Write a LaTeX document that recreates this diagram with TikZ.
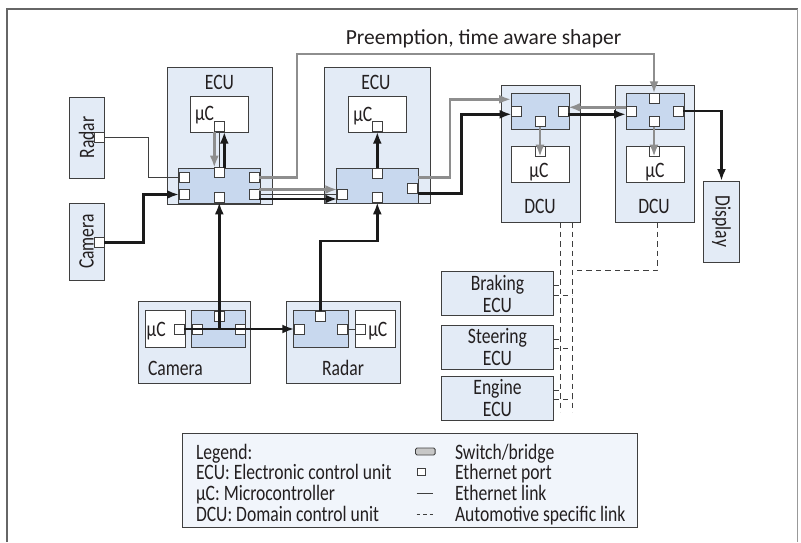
\documentclass[tikz,border=0pt]{standalone}
\usepackage{fontspec}
\setmainfont[FakeStretch=0.8]{Carlito}
\newfontfamily\titlefont{Carlito}
\usetikzlibrary{arrows.meta}
\definecolor{boxfill}{HTML}{E3EBF6}
\definecolor{swfill}{HTML}{C8D8EE}
\definecolor{edge}{HTML}{3F3F3F}
\definecolor{flowgray}{HTML}{8E8E8E}
\definecolor{flowblack}{HTML}{1A1A1A}
\definecolor{legfill}{HTML}{F1F5FB}
\definecolor{txt}{HTML}{231F20}
\begin{document}
\begin{tikzpicture}[x=1pt,y=-1pt,
  every node/.style={inner sep=0pt, outer sep=0pt, font=\fontsize{22}{21.6}\selectfont, text=txt},
  unit/.style={draw=edge, fill=boxfill, line width=0.9pt},
  swbox/.style={draw=edge, fill=swfill, line width=0.9pt},
  mcbox/.style={draw=edge, fill=white, line width=0.9pt},
  port/.style={draw=edge, fill=white, line width=0.9pt, minimum width=10pt, minimum height=10pt},
  link/.style={draw=edge, line width=0.9pt},
  bflow/.style={draw=flowblack, line width=2.6pt, -{Latex[length=12pt,width=9pt]}},
  gflow/.style={draw=flowgray, line width=2.4pt, -{Latex[length=12pt,width=9pt]}},
  autolink/.style={draw=edge, line width=0.9pt, dash pattern=on 5.5pt off 4pt},
]
\useasboundingbox (0,0) rectangle (801,542);
% frame
\draw[draw=black!60, line width=1.2pt] (7,542) -- (7,9) -- (797.5,9);
\draw[draw=black!40, line width=1.8pt] (797.5,9) -- (797.5,542);

% title
\node[font=\titlefont\fontsize{21.5}{24}\selectfont, anchor=base] (title) at (483.5,44) {Preemption, time aware shaper};

% ECU 1
\node[unit, minimum width=105pt, minimum height=137pt] (ecuA) at (219.5,135.5) {};
\node[anchor=base] (tA) at (219.5,89) {ECU};
\node[mcbox, minimum width=58pt, minimum height=35.5pt] (mcA) at (219,114.5) {};
\node[anchor=base west] (tmA) at (195,120) {μC};
\node[swbox, minimum width=82pt, minimum height=35.5pt] (swA) at (219,185.7) {};
\node[port] (pA0) at (219.3,126.7) {};
\node[port] (pAt) at (219.3,172.7) {};
\node[port] (pAb) at (219.3,197.3) {};
\node[port] (pAl1) at (184,177.3) {};
\node[port] (pAl2) at (184,194.5) {};
\node[port] (pAr1) at (254,177.3) {};
\node[port] (pAr2) at (254,194.5) {};

% ECU 2
\node[unit, minimum width=106pt, minimum height=136.5pt] (ecuB) at (377,135.3) {};
\node[anchor=base] (tB) at (376,89) {ECU};
\node[mcbox, minimum width=58pt, minimum height=35.5pt] (mcB) at (377,114.5) {};
\node[anchor=base west] (tmB) at (353.3,121) {μC};
\node[swbox, minimum width=82pt, minimum height=35.5pt] (swB) at (377,185.7) {};
\node[port] (pB0) at (377.3,126.7) {};
\node[port] (pBt) at (377.3,173.3) {};
\node[port] (pBb) at (377.3,197.3) {};
\node[port] (pBl) at (342.3,194.5) {};
\node[port] (pBr) at (412.5,188.3) {};

% left sensors
\node[unit, rotate=90, minimum width=81pt, minimum height=35pt] (radL) at (86.5,137.5) {Radar};
\node[port] (radLp) at (99,137.3) {};
\node[unit, rotate=90, minimum width=77pt, minimum height=35pt] (camL) at (86.5,241.5) {Camera};
\node[port] (camLp) at (99,242.7) {};

% DCU 1
\node[unit, minimum width=79pt, minimum height=137pt] (dcuA) at (540.5,153.5) {};
\node[swbox, minimum width=58pt, minimum height=35.7pt] (swC) at (540,111.2) {};
\node[mcbox, minimum width=58pt, minimum height=35.6pt] (mcC) at (540,164.5) {};
\node[anchor=base] (tmC) at (539,177.7) {μC};
\node[anchor=base] (tdA) at (540,213.3) {DCU};
\node[port] (pCl) at (516.7,111) {};
\node[port] (pCr) at (563.3,111) {};
\node[port] (pCb) at (540,121.7) {};
\node[port] (pC0) at (540,151.7) {};

% DCU 2
\node[unit, minimum width=79pt, minimum height=137pt] (dcuB) at (654.5,153.5) {};
\node[swbox, minimum width=58pt, minimum height=35.7pt] (swD) at (655,111.2) {};
\node[mcbox, minimum width=58pt, minimum height=35.6pt] (mcD) at (655,164.5) {};
\node[anchor=base] (tmD) at (655,177.7) {μC};
\node[anchor=base] (tdB) at (654,213.3) {DCU};
\node[port] (pDt) at (654,98.3) {};
\node[port] (pDl) at (631,111) {};
\node[port] (pDr) at (678,111) {};
\node[port] (pDb) at (654,121.7) {};
\node[port] (pD0) at (654,151.7) {};

% Display
\node[unit, rotate=-90, minimum width=81pt, minimum height=36pt] (disp) at (721.5,221.5) {Display};

% bottom camera
\node[unit, minimum width=112.5pt, minimum height=81.7pt] (camB) at (194.5,342.5) {};
\node[anchor=base west] (tcam) at (148,375) {Camera};
\node[mcbox, minimum width=39.3pt, minimum height=36.6pt] (mcE) at (165.4,329) {};
\node[anchor=base west] (tmE) at (146.7,336) {μC};
\node[swbox, minimum width=54.7pt, minimum height=36.6pt] (swE) at (218.3,329) {};
\node[port] (pE0) at (179,329) {};
\node[port] (pEl) at (197,329) {};
\node[port] (pEt) at (219.3,316) {};
\node[port] (pEr) at (240.3,329) {};

% bottom radar
\node[unit, minimum width=114pt, minimum height=81.7pt] (radB) at (343,342.5) {};
\node[anchor=base] (trad) at (343,375) {Radar};
\node[swbox, minimum width=55pt, minimum height=36.6pt] (swF) at (320.8,329) {};
\node[mcbox, minimum width=39.3pt, minimum height=36.6pt] (mcF) at (375.3,329) {};
\node[anchor=base west] (tmF) at (368.3,336) {μC};
\node[port] (pFl) at (299.3,329) {};
\node[port] (pFt) at (320.7,316) {};
\node[port] (pFr) at (342.7,329) {};
\node[port] (pF0) at (360.5,329) {};

% automotive ECUs
\node[unit, minimum width=111.6pt, minimum height=44pt, align=center] (brk) at (497.5,293.7) {Braking\\ECU};
\node[unit, minimum width=111.6pt, minimum height=43.3pt, align=center] (str) at (497.5,347.3) {Steering\\ECU};
\node[unit, minimum width=111.6pt, minimum height=43.3pt, align=center] (eng) at (497.5,398.3) {Engine\\ECU};

% ---- links and flows ----
\draw[link] (radLp.east) -- ++(44.3,0) |- (pAl1.west);
\draw[bflow] (camLp.east) -- ++(39.3,0) |- (pAl2.west);
\draw[link] (pA0.south) -- (pAt.north);
\draw[gflow] ([xshift=-5pt]pA0.south) -- ([xshift=-5pt]pAt.north);
\draw[bflow] ([xshift=5pt]pAt.north) -- ([xshift=5pt]pA0.south);

\draw[link] (pAr2.east) -- (pBl.west);
\draw[gflow] ([yshift=5pt]pAr2.east) -- ([yshift=5pt]pBl.west);
\draw[bflow] ([yshift=-4.5pt]pAr2.east) -- ([yshift=-4.5pt]pBl.west);
\draw[bflow] (pBt.north) -- (pB0.south);

\draw[gflow] ([yshift=8.4pt]swB.east) -- ++(31.8,0) |- ([yshift=11.9pt]swC.west);
\draw[bflow] ([yshift=-5pt]pBr.east) -- ++(44.2,0) |- ([yshift=-3.3pt]pCl.west);

\draw[gflow] (pAr1.east) -- ++(37.7,0) -- ++(0,-123.3) -| (pDt.north);

\draw[gflow] ([yshift=3.7pt]pDl.west) -- ([yshift=3.7pt]pCr.east);
\draw[bflow] ([yshift=-3.3pt]pCr.east) -- ([yshift=-3.3pt]pDl.west);
\draw[gflow] (pCb.south) -- (pC0.south);
\draw[gflow] (pDb.south) -- (pD0.south);
\draw[bflow] (pDr.east) -| (disp.west);

\draw[bflow] (pE0.east) -- (pFl.west);
\draw[bflow] (pEt |- pE0) -- (pAb.south);
\draw[link] (pFr.east) -- (pF0.west);
\draw[bflow] (pFt.north) -- ++(0,-70) -| (pBb.south);

% automotive specific links
\coordinate (busA) at (560.7,412);
\coordinate (busB) at (572.3,412);
\coordinate (jn) at (572.3,270);
\draw[autolink] (busA |- dcuA.south) -- (busA);
\draw[autolink] (busB |- dcuA.south) -- (busB);
\draw[autolink] ([xshift=3.2pt]dcuB.south) |- (jn);
\foreach \b in {brk,str,eng}{
  \draw[autolink] ([yshift=8pt]\b.east) -- ++(7.4,0);
  \draw[autolink] ([yshift=-1.5pt]\b.east) -- ++(19,0);
}

% legend
\node[draw=edge, fill=legfill, line width=0.9pt, minimum width=455pt, minimum height=94pt] (leg) at (409.5,480) {};
\node[anchor=base west] (l1) at (196,459) {Legend:};
\node[anchor=base west] (l2) at (196,479.7) {ECU: Electronic control unit};
\node[anchor=base west] (l3) at (196,500.4) {μC: Microcontroller};
\node[anchor=base west] (l4) at (196,521.1) {DCU: Domain control unit};
\node[anchor=base west] (r1) at (455,459) {Switch/bridge};
\node[anchor=base west] (r2) at (455,479.7) {Ethernet port};
\node[anchor=base west] (r3) at (455,500.4) {Ethernet link};
\node[anchor=base west] (r4) at (455,521.1) {Automotive specific link};
\node[draw=edge, fill=black!22, rounded corners=1.5pt, line width=0.9pt, minimum width=19.7pt, minimum height=7pt] (lsw) at (425.3,451.5) {};
\node[draw=edge, fill=white, line width=0.9pt, minimum width=8pt, minimum height=7pt] (lport) at (421.3,472) {};
\coordinate (ll1) at (416.6,493);
\coordinate (ll2) at (433.4,493);
\draw[link] (ll1) -- (ll2);
\coordinate (ld1) at (416.6,514.5);
\coordinate (ld2) at (434.5,514.5);
\draw[draw=edge, line width=0.9pt, dash pattern=on 3.5pt off 3pt] (ld1) -- (ld2);
\end{tikzpicture}
\end{document}
